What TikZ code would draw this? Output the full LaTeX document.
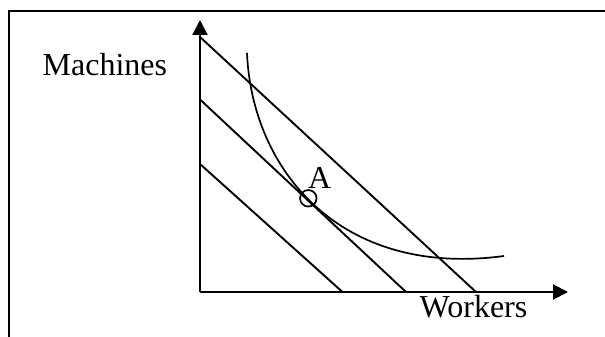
\documentclass[tikz,border=0pt]{standalone}
\usepackage{fontspec}
\setmainfont{Liberation Serif}
\usetikzlibrary{arrows.meta}
\begin{document}
\begin{tikzpicture}[x=1pt,y=-1pt,
  frame/.style={line width=2.2pt},
  axis/.style={line width=2pt,-{Triangle[length=15pt,width=15pt]}},
  budget/.style={line width=1.9pt},
  iso/.style={line width=1.7pt},
  lbl/.style={inner sep=0pt,anchor=base west,font=\fontsize{32}{36}\selectfont}]
\useasboundingbox (0,0) rectangle (605,337);
% frame
\coordinate (fbl) at (9,337);
\coordinate (ftl) at (9,11);
\coordinate (ftr) at (605,11);
\draw[frame] (fbl) -- (ftl) -- (ftr);
% axes
\coordinate (O) at (200,292);
\coordinate (ytip) at (200,20);
\coordinate (xtip) at (568,292);
\draw[axis] (O) -- (ytip);
\draw[axis] (O) -- (xtip);
% budget lines
\coordinate (b1s) at (200,37);  \coordinate (b1e) at (476,292);
\coordinate (b2s) at (200,99.5); \coordinate (b2e) at (406,292);
\coordinate (b3s) at (200,164); \coordinate (b3e) at (342.5,292);
\draw[budget] (b1s) -- (b1e);
\draw[budget] (b2s) -- (b2e);
\draw[budget] (b3s) -- (b3e);
% isoquant
\coordinate (cs) at (247,53);
\coordinate (ce) at (504,256);
\draw[iso] (cs) .. controls (252,170) and (340,278) .. (ce);
% point A
\node[draw,circle,line width=1.7pt,minimum size=16.5pt,inner sep=0pt] (pA) at (308.3,198.3) {};
\node[lbl] (lA) at (308,188.3) {A};
% labels
\node[lbl] (lM) at (42.5,75.5) {Machines};
\node[lbl] (lW) at (419.5,317.3) {Workers};
\end{tikzpicture}
\end{document}
